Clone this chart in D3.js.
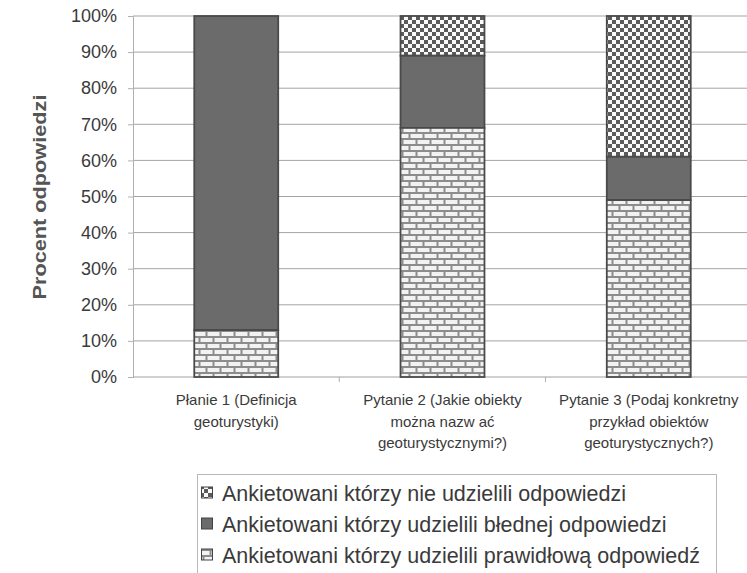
<!DOCTYPE html>
<html>
<head>
<meta charset="utf-8">
<script src="https://cdn.jsdelivr.net/npm/d3@7"></script>
<style>
  body { margin: 0; background: #fff; }
  svg { display: block; font-family: Arial, "Liberation Sans", sans-serif; }
</style>
</head>
<body>
<div id="graph"></div>
<script>
'use strict';

// categories (multi-line labels)
const questions = [
  ['Płanie 1 (Definicja', 'geoturystyki)'],
  ['Pytanie 2 (Jakie obiekty', 'można nazw ać', 'geoturystycznymi?)'],
  ['Pytanie 3 (Podaj konkretny', 'przykład obiektów', 'geoturystycznych?)'],
];
// percent values per series, stacked bottom -> top
const correct = [13, 69, 49];
const wrong = [87, 20, 12];
const noAnswer = [0, 11, 39];

const seriesNames = [
  'Ankietowani którzy nie udzielili odpowiedzi',
  'Ankietowani którzy udzielili błednej odpowiedzi',
  'Ankietowani którzy udzielili prawidłową odpowiedź',
];
const yTicks = [0, 10, 20, 30, 40, 50, 60, 70, 80, 90, 100];

const W = 747, H = 573;
const svg = d3.select('#graph').append('svg')
  .attr('width', W).attr('height', H);

// fill patterns
const defs = svg.append('defs');
let checker = defs.append('pattern').attr('id', 'pat-none')
  .attr('patternUnits', 'userSpaceOnUse').attr('width', 8).attr('height', 8);
checker.append('rect').attr('width', 8).attr('height', 8).attr('fill', '#fafafa');
checker.append('rect').attr('width', 4).attr('height', 4).attr('fill', '#5a5a5a');
checker.append('rect').attr('x', 4).attr('y', 4).attr('width', 4).attr('height', 4).attr('fill', '#5a5a5a');

let brick = defs.append('pattern').attr('id', 'pat-correct')
  .attr('patternUnits', 'userSpaceOnUse').attr('width', 14).attr('height', 12);
brick.append('rect').attr('width', 14).attr('height', 12).attr('fill', '#f2f2f2');
brick.append('path')
  .attr('d', 'M0,1H14M0,7H14M3.5,0V6M10.5,6V12')
  .attr('stroke', '#8c8c8c').attr('stroke-width', 2).attr('fill', 'none');

const fills = ['url(#pat-none)', '#6b6b6b', 'url(#pat-correct)'];

const x = d3.scaleBand()
  .domain(d3.range(questions.length))
  .range([133, 752])
  .paddingInner(0.593).paddingOuter(0.297);

const y = d3.scaleLinear().domain([0, 100]).range([377, 16]);

// grid lines
svg.append('g').selectAll('line')
  .data(yTicks.filter(t => t > 0))
  .enter().append('line')
  .attr('x1', 133).attr('x2', W)
  .attr('y1', d => y(d)).attr('y2', d => y(d))
  .attr('stroke', '#a4a4a4').attr('stroke-width', 1);

// y axis
const yAxis = d3.axisLeft(y).tickValues(yTicks).tickSize(5).tickPadding(11)
  .tickFormat(d => d + '%');
let gy = svg.append('g').attr('transform', 'translate(133,0)').call(yAxis);
gy.select('.domain').attr('stroke', '#b0b0b0');
gy.selectAll('.tick line').attr('stroke', '#b0b0b0');
gy.selectAll('.tick text')
  .attr('font-size', 18).attr('fill', '#3a3a3a')
  .attr('font-family', 'Arial, "Liberation Sans", sans-serif');

// x axis baseline and category ticks
svg.append('line')
  .attr('x1', 133).attr('x2', W).attr('y1', y(0)).attr('y2', y(0))
  .attr('stroke', '#a0a0a0');
const step = x.step();
svg.append('g').selectAll('line')
  .data(d3.range(1, questions.length))
  .enter().append('line')
  .attr('x1', d => 133 + d * step).attr('x2', d => 133 + d * step)
  .attr('y1', y(0)).attr('y2', y(0) + 5)
  .attr('stroke', '#b0b0b0');

// stacked bars
const table = questions.map((q, i) => ({ i: i, correct: correct[i], wrong: wrong[i], none: noAnswer[i] }));
const stack = d3.stack().keys(['none', 'wrong', 'correct']).order(d3.stackOrderReverse);
const layers = stack(table);

svg.append('g').selectAll('g')
  .data(layers)
  .enter().append('g')
  .attr('fill', (d, k) => fills[k])
  .selectAll('rect')
  .data(d => d)
  .enter().append('rect')
  .filter(d => d[1] > d[0])
  .attr('x', d => x(d.data.i))
  .attr('width', x.bandwidth())
  .attr('y', d => y(d[1]))
  .attr('height', d => y(d[0]) - y(d[1]))
  .attr('stroke', '#4a4a4a')
  .attr('stroke-width', 1.8);

// category labels
let labels = svg.append('g').selectAll('text')
  .data(questions)
  .enter().append('text')
  .attr('text-anchor', 'middle')
  .attr('font-size', 15)
  .attr('fill', '#3a3a3a')
  .attr('transform', (d, i) => `translate(${x(i) + x.bandwidth() / 2}, 405)`);
labels.selectAll('tspan')
  .data(d => d)
  .enter().append('tspan')
  .attr('x', 0)
  .attr('dy', (d, j) => j === 0 ? 0 : 21.5)
  .text(d => d);

// y title
svg.append('text')
  .attr('transform', 'translate(46, 197) rotate(-90)')
  .attr('text-anchor', 'middle')
  .attr('font-size', 18)
  .attr('font-weight', 'bold')
  .attr('fill', '#555')
  .attr('textLength', 205)
  .attr('lengthAdjust', 'spacingAndGlyphs')
  .text('Procent odpowiedzi');

// legend
let legend = svg.append('g');
legend.append('rect')
  .attr('x', 197.5).attr('y', 474.5)
  .attr('width', 519).attr('height', 110)
  .attr('fill', 'none').attr('stroke', '#b8b8b8');
let items = legend.selectAll('g.item')
  .data(seriesNames)
  .enter().append('g')
  .attr('class', 'item')
  .attr('transform', (d, i) => `translate(200, ${493 + i * 31})`);
items.append('rect')
  .attr('x', 1.5).attr('y', -6)
  .attr('width', 11).attr('height', 11)
  .attr('fill', (d, i) => fills[i])
  .attr('stroke', '#444').attr('stroke-width', 1);
items.append('text')
  .attr('x', 22).attr('dy', '0.36em')
  .attr('font-size', 21.5)
  .attr('fill', '#3a3a3a')
  .text(d => d);
</script>
</body>
</html>
